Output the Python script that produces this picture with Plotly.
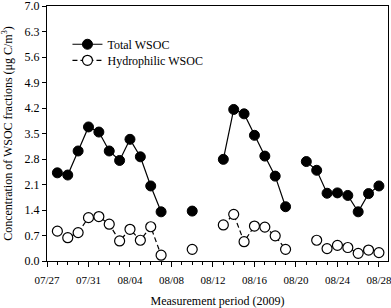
import plotly.graph_objects as go

dates = ["2009-07-28", "2009-07-29", "2009-07-30", "2009-07-31", "2009-08-01",
         "2009-08-02", "2009-08-03", "2009-08-04", "2009-08-05", "2009-08-06",
         "2009-08-07", "2009-08-08", "2009-08-09", "2009-08-10", "2009-08-11",
         "2009-08-12", "2009-08-13", "2009-08-14", "2009-08-15", "2009-08-16",
         "2009-08-17", "2009-08-18", "2009-08-19", "2009-08-20", "2009-08-21",
         "2009-08-22", "2009-08-23", "2009-08-24", "2009-08-25", "2009-08-26",
         "2009-08-27", "2009-08-28"]

total_wsoc = [2.42, 2.36, 3.02, 3.68, 3.54, 3.02, 2.76, 3.34, 2.86, 2.06,
              1.35, None, None, 1.37, None, None, 2.79, 4.16, 4.04, 3.45,
              2.88, 2.33, 1.49, None, 2.73, 2.49, 1.86, 1.87, 1.80, 1.35,
              1.85, 2.06]

hydrophilic_wsoc = [0.82, 0.64, 0.78, 1.19, 1.22, 1.01, 0.55, 0.87, 0.57, 0.94,
                    0.16, None, None, 0.32, None, None, 0.99, 1.28, 0.53, 0.96,
                    0.93, 0.69, 0.32, None, None, 0.57, 0.34, 0.43, 0.37, 0.21,
                    0.30, 0.23]

x_tick_vals = ["2009-07-27", "2009-07-31", "2009-08-04", "2009-08-08", "2009-08-12",
               "2009-08-16", "2009-08-20", "2009-08-24", "2009-08-28"]
x_tick_text = ["07/27", "07/31", "08/04", "08/08", "08/12", "08/16", "08/20", "08/24", "08/28"]
y_tick_vals = [0.0, 0.7, 1.4, 2.1, 2.8, 3.5, 4.2, 4.9, 5.6, 6.3, 7.0]

FONT = "Liberation Serif, Times New Roman, serif"

fig = go.Figure()
fig.add_trace(go.Scatter(
    x=dates, y=total_wsoc, name="Total WSOC", mode="lines+markers",
    line=dict(color="black", width=1.2),
    marker=dict(symbol="circle", size=10, color="black", line=dict(color="black", width=1)),
    connectgaps=False, legend="legend", showlegend=True))
fig.add_trace(go.Scatter(
    x=dates, y=hydrophilic_wsoc, name="Hydrophilic WSOC", mode="lines+markers",
    line=dict(color="black", width=1.2, dash="5px,3px"),
    marker=dict(symbol="circle", size=10, color="white", line=dict(color="black", width=1.2)),
    connectgaps=False, legend="legend2", showlegend=True))

fig.update_layout(
    width=391, height=308,
    margin=dict(l=47, r=3, t=6, b=47),
    paper_bgcolor="white", plot_bgcolor="white",
    font=dict(family=FONT, size=12, color="black"),
    showlegend=True,
    legend=dict(x=0.06, y=0.85, xanchor="left", yanchor="middle",
                bgcolor="rgba(0,0,0,0)", font=dict(size=12), itemwidth=30,
                borderwidth=0, visible=True),
    legend2=dict(x=0.06, y=0.787, xanchor="left", yanchor="middle",
                 bgcolor="rgba(0,0,0,0)", font=dict(size=12), itemwidth=30,
                 borderwidth=0, visible=True),
    xaxis=dict(
        type="date", automargin=False,
        range=["2009-07-27", "2009-08-28 21:00"],
        tickmode="array", tickvals=x_tick_vals, ticktext=x_tick_text,
        ticks="outside", ticklen=5, tickwidth=1, tickcolor="black",
        ticklabeloverflow="allow", ticklabelstandoff=4,
        minor=dict(dtick=86400000, ticks="outside", ticklen=3, tickcolor="black", tickwidth=1),
        showline=True, linecolor="black", linewidth=1, mirror=True,
        showgrid=False, zeroline=False,
        tickfont=dict(size=11, family=FONT),
        title=dict(text="Measurement period (2009)", font=dict(size=12, family=FONT)),
    ),
    yaxis=dict(
        range=[0, 7], automargin=False,
        tickmode="array", tickvals=y_tick_vals, tickformat=".1f",
        ticks="outside", ticklen=4, tickwidth=1, tickcolor="black",
        ticklabeloverflow="allow",
        showline=True, linecolor="black", linewidth=1, mirror=True,
        showgrid=False, zeroline=False,
        tickfont=dict(size=12, family=FONT),
        title=dict(text="Concentration of WSOC fractions (μg C/m<sup>3</sup>)",
                   font=dict(size=12, family=FONT)),
    ),
)

fig.write_html(
    "out.html",
    config={"displayModeBar": False},
    post_script="document.body.style.margin='0px';document.body.style.padding='0px';",
)
